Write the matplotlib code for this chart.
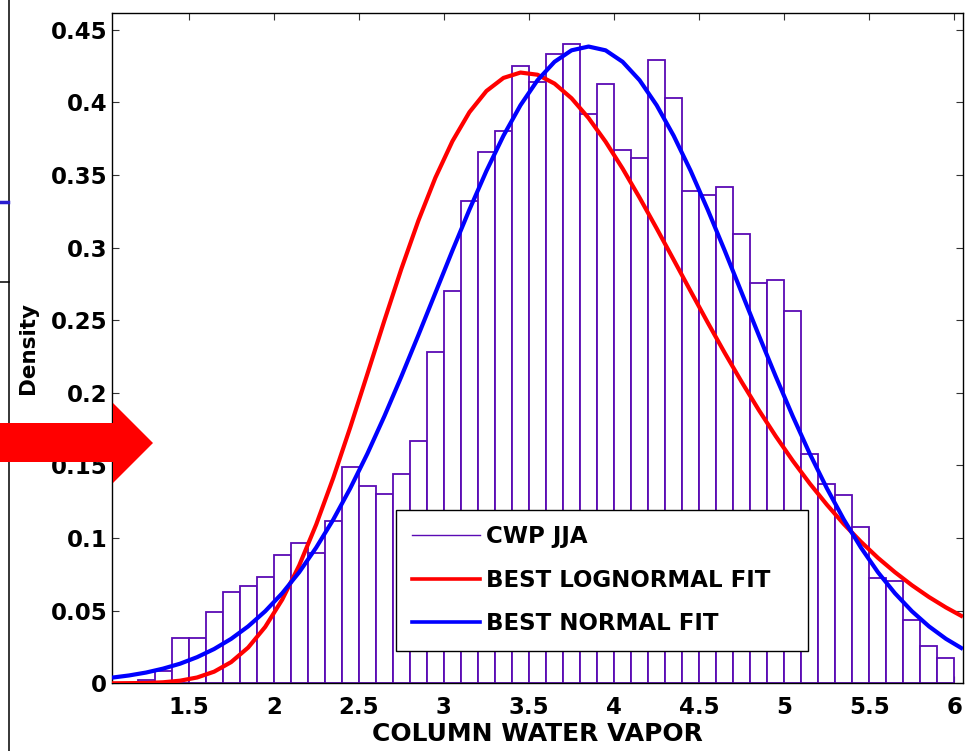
import matplotlib
matplotlib.use('Agg')
import matplotlib.pyplot as plt
from matplotlib.lines import Line2D
from matplotlib.patches import Polygon

plt.rcParams['font.family'] = ['DejaVu Sans']
plt.rcParams['font.weight'] = 'bold'

# ---------------- data ----------------
bin_left = [1.2, 1.3, 1.4, 1.5, 1.6, 1.7, 1.8, 1.9, 2.0, 2.1, 2.2, 2.3, 2.4, 2.5, 2.6, 2.7,
            2.8, 2.9, 3.0, 3.1, 3.2, 3.3, 3.4, 3.5, 3.6, 3.7, 3.8, 3.9, 4.0, 4.1, 4.2, 4.3,
            4.4, 4.5, 4.6, 4.7, 4.8, 4.9, 5.0, 5.1, 5.2, 5.3, 5.4, 5.5, 5.6, 5.7, 5.8, 5.9]
density = [0.0025, 0.0087, 0.031, 0.031, 0.049, 0.063, 0.067, 0.073, 0.088, 0.0964, 0.090, 0.112,
           0.149, 0.136, 0.130, 0.144, 0.167, 0.228, 0.270, 0.332, 0.366, 0.380, 0.4247, 0.414,
           0.433, 0.440, 0.392, 0.4125, 0.3675, 0.362, 0.4288, 0.403, 0.339, 0.3365, 0.3416, 0.309,
           0.2755, 0.2778, 0.2564, 0.158, 0.137, 0.1297, 0.1074, 0.0723, 0.0707, 0.0436, 0.0259, 0.0176]

fit_x = [1.05, 1.15, 1.25, 1.35, 1.45, 1.55, 1.65, 1.75, 1.85, 1.95, 2.05, 2.15, 2.25, 2.35,
         2.45, 2.55, 2.65, 2.75, 2.85, 2.95, 3.05, 3.15, 3.25, 3.35, 3.45, 3.55, 3.65, 3.75,
         3.85, 3.95, 4.05, 4.15, 4.25, 4.35, 4.45, 4.55, 4.65, 4.75, 4.85, 4.95, 5.05, 5.15,
         5.25, 5.35, 5.45, 5.55, 5.65, 5.75, 5.85, 5.95, 6.05]
lognormal_fit = [0.0000, 0.0001, 0.0002, 0.0007, 0.0018, 0.0040, 0.0080, 0.0146, 0.0246, 0.0388,
                 0.0576, 0.0812, 0.1094, 0.1414, 0.1763, 0.2128, 0.2496, 0.2853, 0.3185, 0.3481,
                 0.3732, 0.3932, 0.4078, 0.4168, 0.4205, 0.4190, 0.4129, 0.4028, 0.3892, 0.3729,
                 0.3544, 0.3343, 0.3132, 0.2916, 0.2699, 0.2484, 0.2275, 0.2074, 0.1882, 0.1701,
                 0.1532, 0.1375, 0.1230, 0.1096, 0.0975, 0.0864, 0.0765, 0.0675, 0.0594, 0.0522,
                 0.0458]
normal_fit = [0.0039, 0.0054, 0.0074, 0.0101, 0.0135, 0.0180, 0.0236, 0.0306, 0.0392, 0.0496,
              0.0620, 0.0765, 0.0935, 0.1127, 0.1343, 0.1580, 0.1838, 0.2112, 0.2397, 0.2688,
              0.2979, 0.3261, 0.3528, 0.3770, 0.3980, 0.4152, 0.4279, 0.4358, 0.4384, 0.4358,
              0.4279, 0.4152, 0.3980, 0.3770, 0.3528, 0.3261, 0.2979, 0.2688, 0.2397, 0.2112,
              0.1838, 0.1580, 0.1343, 0.1127, 0.0935, 0.0765, 0.0620, 0.0496, 0.0392, 0.0306,
              0.0236]

x_ticks = [1.5, 2, 2.5, 3, 3.5, 4, 4.5, 5, 5.5, 6]
x_tick_labels = ['1.5', '2', '2.5', '3', '3.5', '4', '4.5', '5', '5.5', '6']
y_ticks = [0, 0.05, 0.1, 0.15, 0.2, 0.25, 0.3, 0.35, 0.4, 0.45]
y_tick_labels = ['0', '0.05', '0.1', '0.15', '0.2', '0.25', '0.3', '0.35', '0.4', '0.45']

series_labels = ['CWP JJA', 'BEST LOGNORMAL FIT', 'BEST NORMAL FIT']

# ---------------- styles ----------------
PURPLE = '#5a0ab4'
RED = '#ff0000'
BLUE = '#0000ff'
W, H = 970, 751

fig = plt.figure(figsize=(W / 100, H / 100), dpi=100)
ax = fig.add_axes([112 / W, 1 - 683.3 / H, (963 - 112) / W, (683.3 - 13) / H])

ax.bar(bin_left, density, width=0.1, align='edge', facecolor='white',
       edgecolor=PURPLE, linewidth=1.3, zorder=2)
ax.plot(fit_x, lognormal_fit, color=RED, lw=3.0, zorder=3, solid_capstyle='butt')
ax.plot(fit_x, normal_fit, color=BLUE, lw=3.0, zorder=4, solid_capstyle='butt')

ax.set_xlim(1.05, 6.05)
ax.set_ylim(0, 0.4615)
ax.set_xticks(x_ticks)
ax.set_xticklabels(x_tick_labels)
ax.set_yticks(y_ticks)
ax.set_yticklabels(y_tick_labels)

ax.tick_params(direction='in', length=5, width=0.8, color='#333333',
               top=True, right=True, labelsize=16.5)
ax.tick_params(axis='x', pad=9.5)
ax.tick_params(axis='y', pad=3.5)
for s in ax.spines.values():
    s.set_linewidth(1.0)
    s.set_color('black')

ax.set_xlabel('COLUMN WATER VAPOR', fontsize=18, fontweight='bold', labelpad=2)
ax.set_ylabel('Density', fontsize=15.5, fontweight='bold', labelpad=9)

handles = [Line2D([], [], color=PURPLE, lw=1.0),
           Line2D([], [], color=RED, lw=2.6),
           Line2D([], [], color=BLUE, lw=2.6)]
leg = ax.legend(handles, series_labels, loc='lower left',
                bbox_to_anchor=((396 - 112) / 851, (683.3 - 651) / 670.3, 412 / 851, 0.21),
                mode='expand', borderaxespad=0, prop={'weight': 'bold', 'size': 16.5},
                handlelength=2.97, handletextpad=0.29, borderpad=0.68, labelspacing=0.9,
                fancybox=False, framealpha=1, edgecolor='black')
leg.get_frame().set_linewidth(1.0)
leg.set_zorder(10)

# ---------------- left-side decorations ----------------
def fx(px):
    return px / W

def fy(py):
    return 1 - py / H

fig.add_artist(Line2D([fx(9.5), fx(9.5)], [0, 1], transform=fig.transFigure,
                      color='black', lw=1.1))
fig.add_artist(Line2D([0, fx(9.5)], [fy(281.7), fy(281.7)], transform=fig.transFigure,
                      color='black', lw=1.1))
fig.add_artist(Line2D([0, fx(8)], [fy(202), fy(202)], transform=fig.transFigure,
                      color='#2a1ed0', lw=2.5))
arrow_px = [(0, 423), (113, 423), (113, 403), (153, 443), (113, 483), (113, 462), (0, 462)]
fig.add_artist(Polygon([(fx(a), fy(b)) for a, b in arrow_px], closed=True,
                       transform=fig.transFigure, facecolor='#ff0000', edgecolor='none',
                       zorder=20))

fig.savefig('out.png', dpi=100)
